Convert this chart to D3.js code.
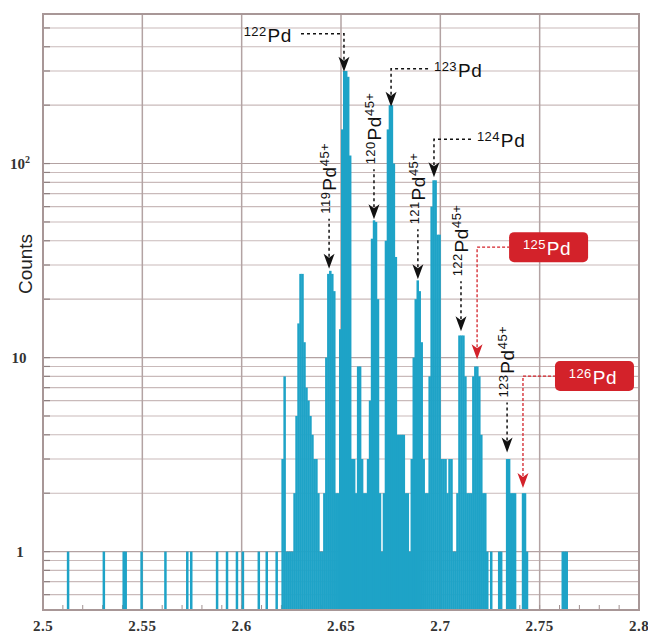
<!DOCTYPE html>
<html><head><meta charset="utf-8">
<script src="https://cdn.jsdelivr.net/npm/d3@7"></script>
<style>body{margin:0;background:#fff;overflow:hidden}</style>
</head><body>
<svg id="c" width="648" height="635"></svg>
<script>
// ---------------- data ----------------
const binWidth = 0.001;
// isolated single-count bins (left edges)
const sparseBins   = [2.512,2.530,2.540,2.541,2.549,2.561,2.572,2.574,2.587,2.592,2.597,2.600,2.608,2.612,2.617,2.761,2.762,2.763];
const sparseCounts = [1,1,1,1,1,1,1,1,1,1,1,1,1,1,1,1,1,1];
// contiguous bins starting at 2.620
const denseStart = 2.620;
const denseCounts = [
  3,8,1,1,1,1,2,5,15,27,
  27,12,7,6,5,4,3,3,2,1,
  1,2,10,27,28,27,22,2,2,14,
  150,300,300,280,110,3,3,2,9,9,
  3,2,2,3,6,41,51,50,20,2,
  1,2,40,150,200,200,100,33,4,4,
  4,4,2,2,1,3,10,20,25,22,
  12,3,2,2,8,60,82,82,43,43,
  3,3,3,2,3,3,1,1,2,13,
  13,13,8,2,2,2,8,9,9,8,
  4,2,2,1,0,1,0,0,0,1,
  1,0,0,3,3,2,2,2,0,0,
  0,2,2,1
];
const xTicks = [2.5,2.55,2.6,2.65,2.7,2.75,2.8];
const xTickLabels = ["2.5","2.55","2.6","2.65","2.7","2.75","2.8"];
const yGridValues = [0.6,0.7,0.8,0.9,1,2,3,4,5,6,7,8,9,10,20,30,40,50,60,70,80,90,100,200,300,400,500];
// annotations: mass number, charge, peak position, count at arrow tip, style
const annMass   = ["122","123","124","119","120","121","122","123","125","126"];
const annCharge = ["","","","45+","45+","45+","45+","45+","",""];
const annX      = [2.6515,2.6752,2.6968,2.644,2.6666,2.6887,2.7104,2.7336,2.7185,2.7416];
const annTip    = [294,194,84,28.4,51,25,13.5,3.2,9.7,2.1];
const annKind   = ["left","right","right","vert","vert","vert","vert","vert","box","box"];

// ---------------- setup ----------------
const svg = d3.select("#c");
const L = 43, R = 639, T = 14, B = 610;
const x = d3.scaleLinear().domain([2.5,2.8]).range([L,R]);
const y = d3.scaleLog().domain([0.5,590]).range([B,T]);

const bins = [];
sparseBins.forEach((b,i)=>bins.push({x0:b,c:sparseCounts[i]}));
denseCounts.forEach((c,i)=>bins.push({x0:+(denseStart+i*binWidth).toFixed(4),c:c}));

// grid
const grid = svg.append("g");
grid.selectAll("line.h").data(yGridValues).join("line")
  .attr("x1",L).attr("x2",R)
  .attr("y1",d=>y(d)).attr("y2",d=>y(d))
  .attr("stroke",d=>[1,10,100].includes(d)?"#b3a2a2":"#c9baba")
  .attr("stroke-width",1.1);
grid.selectAll("line.v").data(xTicks.slice(1,-1)).join("line")
  .attr("x1",d=>x(d)).attr("x2",d=>x(d))
  .attr("y1",T).attr("y2",B)
  .attr("stroke","#b3a3a3").attr("stroke-width",1.5);
// left inner ticks
grid.selectAll("line.lt").data(yGridValues).join("line")
  .attr("x1",L).attr("x2",L+7)
  .attr("y1",d=>y(d)).attr("y2",d=>y(d))
  .attr("stroke","#8f8080").attr("stroke-width",1.2);
// bottom minor ticks
grid.selectAll("line.bt").data(d3.range(1,30).map(i=>2.5+i*0.01)).join("line")
  .attr("x1",d=>x(d)).attr("x2",d=>x(d))
  .attr("y1",B).attr("y2",B-5)
  .attr("stroke","#a09090").attr("stroke-width",1);

// bars
svg.append("g").selectAll("rect").data(bins.filter(d=>d.c>0)).join("rect")
  .attr("x",d=>x(d.x0))
  .attr("width",d=>x(d.x0+binWidth)-x(d.x0)+0.5)
  .attr("y",d=>y(d.c))
  .attr("height",d=>y(0.5)-y(d.c))
  .attr("fill","#1ea3c7");

// frame
svg.append("rect").attr("x",L).attr("y",T).attr("width",R-L).attr("height",B-T)
  .attr("fill","none").attr("stroke","#a89797").attr("stroke-width",2);

// axis labels
const tickFont = "'Liberation Serif','Times New Roman',serif";
svg.append("g").selectAll("text").data(xTicks).join("text")
  .attr("x",d=>x(d)).attr("y",631)
  .attr("text-anchor","middle")
  .attr("font-family",tickFont).attr("font-weight","bold")
  .attr("font-size",15).attr("letter-spacing",0.5).attr("fill","#333")
  .text((d,i)=>xTickLabels[i]);
const yl = svg.append("g").attr("font-family",tickFont).attr("font-weight","bold")
  .attr("font-size",15).attr("fill","#333");
yl.append("text").attr("x",20).attr("y",y(1)+5).attr("text-anchor","middle").text("1");
yl.append("text").attr("x",19).attr("y",y(10)+5).attr("text-anchor","middle").text("10");
const t100 = yl.append("text").attr("x",10).attr("y",y(100)+5);
t100.append("tspan").text("10");
t100.append("tspan").attr("font-size",10).attr("dy",-6).text("2");

svg.append("text")
  .attr("transform",`translate(32,${(T+B)/2-48}) rotate(-90)`)
  .attr("text-anchor","middle")
  .attr("font-family","'Liberation Sans',Arial,sans-serif")
  .attr("font-size",19).attr("fill","#222")
  .text("Counts");

// annotations
const sans = "'Liberation Sans',Arial,sans-serif";
function arrowHead(g,px,ty,col){
  g.append("path")
    .attr("d",`M${px-5.5},${ty-15} L${px},${ty} L${px+5.5},${ty-15} L${px},${ty-11} Z`)
    .attr("fill",col);
}
function label(t,mass,charge,col){
  t.attr("font-family",sans).attr("fill",col);
  t.append("tspan").attr("font-size",13).attr("dy",-6).attr("letter-spacing",0.4).text(mass);
  t.append("tspan").attr("font-size",19).attr("dy",6).attr("letter-spacing",0.6).attr("dx",1).text("Pd");
  if(charge){
    t.append("tspan").attr("font-size",13).attr("dy",-7).attr("letter-spacing",0.4).text(charge);
  }
}
const ann = svg.append("g");
annMass.forEach((m,i)=>{
  const px = x(annX[i]);
  const ty = y(annTip[i]) - 1;
  const kind = annKind[i];
  const g = ann.append("g");
  if(kind==="left"||kind==="right"){
    const dir = kind==="left"?-1:1;
    const len = kind==="left"?46:40;
    g.append("path").attr("d",`M${px},${ty-12} V${ty-38} H${px+dir*len}`)
      .attr("fill","none").attr("stroke","#111").attr("stroke-width",1.5)
      .attr("stroke-dasharray","3,3");
    arrowHead(g,px,ty,"#111");
    const t = g.append("text")
      .attr("x",kind==="left"?px-52:px+43).attr("y",ty-30)
      .attr("text-anchor",kind==="left"?"end":"start");
    label(t,m,annCharge[i],"#111");
  } else if(kind==="vert"){
    g.append("path").attr("d",`M${px},${ty-12} V${ty-50}`)
      .attr("fill","none").attr("stroke","#111").attr("stroke-width",1.5)
      .attr("stroke-dasharray","3,3");
    arrowHead(g,px,ty,"#111");
    const t = g.append("text")
      .attr("transform",`translate(${px+7},${ty-55}) rotate(-90)`)
      .attr("text-anchor","start");
    label(t,m,annCharge[i],"#111");
  } else {
    const red = "#d3222a";
    g.append("path").attr("d",`M${px},${ty-12} V${ty-112} H${px+32}`)
      .attr("fill","none").attr("stroke",red).attr("stroke-width",1.3)
      .attr("stroke-dasharray","3,2");
    arrowHead(g,px,ty,red);
    const bx = px+32, by = ty-112-15;
    g.append("rect").attr("x",bx).attr("y",by).attr("width",79).attr("height",30)
      .attr("rx",5).attr("fill",red);
    const t = g.append("text").attr("x",bx+38).attr("y",by+23).attr("text-anchor","middle");
    label(t,m,"","#fff");
  }
});
</script>
</body></html>
